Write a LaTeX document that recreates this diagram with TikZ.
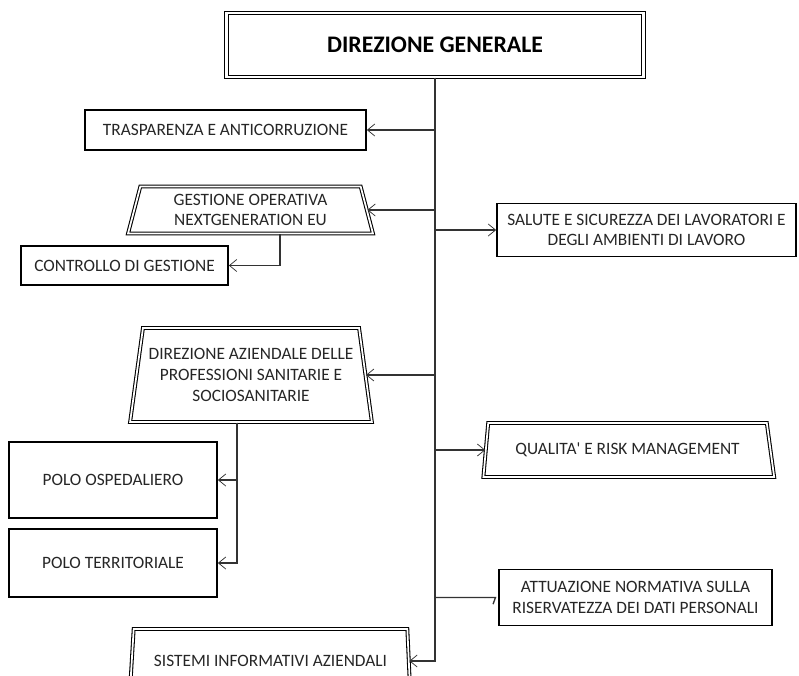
\documentclass[tikz,border=0pt]{standalone}
\usepackage{fontspec}
\setmainfont{Carlito}[Ligatures=TeXOff]
\usetikzlibrary{shapes.geometric,arrows.meta,calc}
\begin{document}
\begin{tikzpicture}[x=0.75pt,y=-0.75pt,
  conn/.style={draw=black!80,line width=1pt},
  arr/.style={conn,-{Straight Barb[length=5.5pt,width=9pt,line width=0.55pt]}},
  box/.style={draw=black,line width=1.3pt,fill=white,align=center,inner sep=0pt,
    text=black!85,font=\fontsize{13}{15.5}\selectfont},
  dbox/.style={draw=black,line width=1pt,double=white,double distance=1.6pt,fill=white,
    align=center,inner sep=0pt,font=\fontsize{17.8}{20}\selectfont\bfseries},
  trap/.style={trapezium,trapezium stretches=true,draw=black,line width=0.8pt,
    double=white,double distance=1.3pt,align=center,inner sep=0pt,
    text=black!85,font=\fontsize{13}{15.5}\selectfont},
]
\clip (0,0) rectangle (799,675);
\fill[white] (0,0) rectangle (799,675);

\node[dbox, minimum width=417*0.75pt, minimum height=64*0.75pt] (DG) at (435,45) {DIREZIONE GENERALE};
\node[box, minimum width=281*0.75pt, minimum height=40*0.75pt] (TR) at (225.5,130) {TRASPARENZA E ANTICORRUZIONE};
\node[trap, trapezium left angle=75, trapezium right angle=75, minimum width=245*0.75pt, minimum height=47*0.75pt] (GO) at (250.5,210) {GESTIONE OPERATIVA\\NEXTGENERATION EU};
\node[box, minimum width=207*0.75pt, minimum height=39*0.75pt] (CG) at (124.5,265.5) {CONTROLLO DI GESTIONE};
\node[box, minimum width=299*0.75pt, minimum height=53*0.75pt] (SA) at (646.5,230) {SALUTE E SICUREZZA DEI LAVORATORI E\\DEGLI AMBIENTI DI LAVORO};
\node[trap, trapezium left angle=77, trapezium right angle=77, minimum width=242*0.75pt, minimum height=94*0.75pt] (DA) at (251,375) {DIREZIONE AZIENDALE DELLE\\PROFESSIONI SANITARIE E\\SOCIOSANITARIE};
\node[box, minimum width=208*0.75pt, minimum height=76*0.75pt] (PO) at (113,480) {POLO OSPEDALIERO};
\node[box, minimum width=208*0.75pt, minimum height=68*0.75pt] (PT) at (113,563) {POLO TERRITORIALE};
\node[trap, trapezium left angle=74.5, trapezium right angle=67, minimum width=291*0.75pt, minimum height=54*0.75pt] (QU) at (627.5,450) {QUALITA' E RISK MANAGEMENT};
\node[box, minimum width=273*0.75pt, minimum height=56*0.75pt] (AT) at (635.5,597.5) {ATTUAZIONE NORMATIVA SULLA\\RISERVATEZZA DEI DATI PERSONALI};
\node[trap, trapezium left angle=74, trapezium right angle=77.7, minimum width=281*0.75pt, minimum height=64*0.75pt] (SI) at (270.5,661) {SISTEMI INFORMATIVI AZIENDALI};

\draw[arr] (DG.south) |- (SI.east);
\draw[arr] (DG.south |- TR.east) -- (TR.east);
\draw[arr] (DG.south |- GO.east) -- (GO.east);
\draw[arr] (DG.south |- SA.west) -- (SA.west);
\draw[arr] (DG.south |- DA.east) -- (DA.east);
\draw[arr] (DG.south |- QU.west) -- (QU.west);
\draw[conn] (DG.south |- AT.west) -- ([xshift=-2pt]AT.west) -- ++(-1.8pt,-5pt);
\draw[arr] ([xshift=22pt]GO.south) |- (CG.east);
\draw[arr] ([xshift=-10.5pt]DA.south) |- (PO.east);
\draw[arr] ([xshift=-10.5pt]DA.south) |- (PT.east);
\end{tikzpicture}
\end{document}
